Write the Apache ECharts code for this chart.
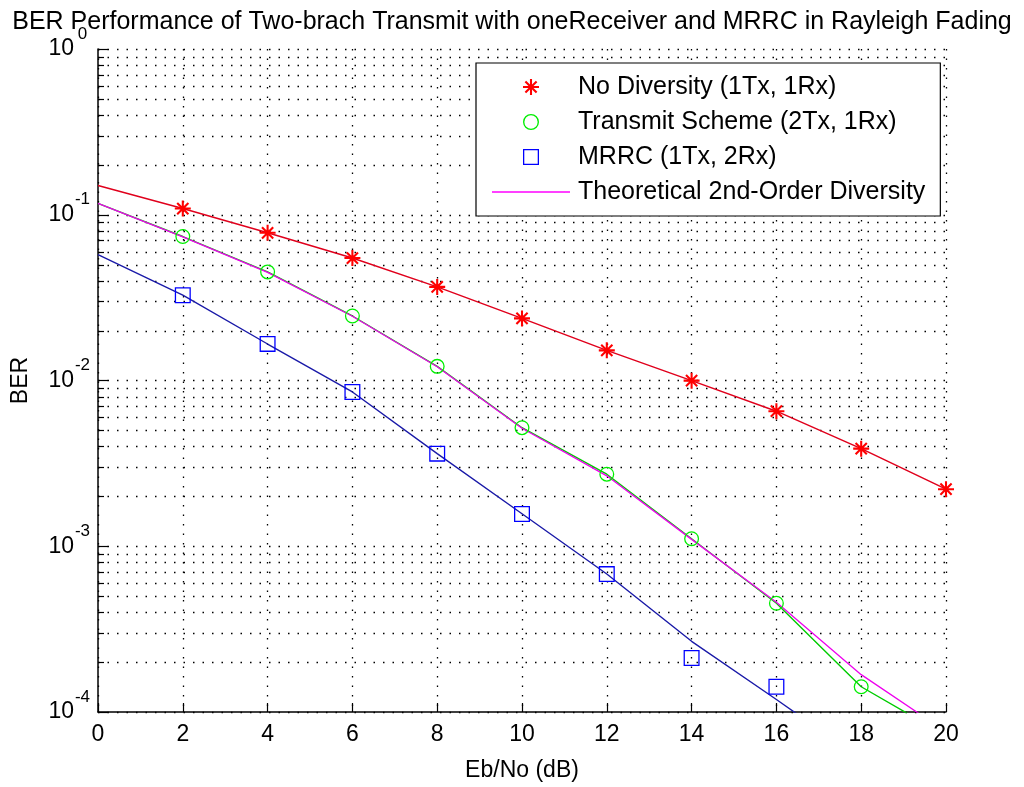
<!DOCTYPE html>
<html>
<head>
<meta charset="utf-8">
<script src="https://cdn.jsdelivr.net/npm/echarts@6/dist/echarts.min.js"></script>
<style>
html,body{margin:0;padding:0;background:#fff;}
#chart{width:1024px;height:787px;}
</style>
</head>
<body>
<div id="chart"></div>
<script>
// ---- data ----
const xTicks = [0, 2, 4, 6, 8, 10, 12, 14, 16, 18, 20];

// simulation markers
const noDivX = [2, 4, 6, 8, 10, 12, 14, 16, 18, 20];
const noDivBER = [0.109, 0.0778, 0.0548, 0.0367, 0.0237, 0.0152, 0.00998, 0.00653, 0.00388, 0.00221];

const txX = [2, 4, 6, 8, 10, 12, 14, 16, 18];
const txBER = [0.0739, 0.0452, 0.0245, 0.01217, 0.00519, 0.00272, 0.00111, 0.000453, 0.000142];

const mrrcX = [2, 4, 6, 8, 10, 12, 14, 16];
const mrrcBER = [0.0327, 0.01663, 0.00853, 0.00362, 0.001567, 0.000679, 0.000212, 0.000142];

// curves
const redLineX = [0, 2, 4, 6, 8, 10, 12, 14, 16, 18, 20];
const redLine = [0.150, 0.109, 0.0778, 0.0548, 0.0367, 0.0237, 0.0152, 0.00998, 0.00653, 0.00388, 0.00221];

const greenLineX = [0, 2, 4, 6, 8, 10, 12, 14, 16, 18, 20];
const greenLine = [0.117, 0.0739, 0.0452, 0.0245, 0.01217, 0.00519, 0.00272, 0.00111, 0.000453, 0.000142, 0.000072];

const blueLineX = [0, 2, 4, 6, 8, 10, 12, 14, 16, 18];
const blueLine = [0.0574, 0.0327, 0.0166, 0.00853, 0.00362, 0.00157, 0.00068, 0.000267, 0.000119, 0.000052];

const theoX = [0, 2, 4, 6, 8, 10, 12, 14, 16, 18, 20];
const theoLine = [0.117, 0.0735, 0.0449, 0.0244, 0.0121, 0.00515, 0.00266, 0.00110, 0.000460, 0.000168, 0.000076];

// log-axis minor tick values
const decades = [1e-4, 1e-3, 1e-2, 1e-1];
const minorMult = [2, 3, 4, 5, 6, 7, 8, 9];
const yMinorTicks = [];
decades.forEach(d => minorMult.forEach(m => yMinorTicks.push(m * d)));

const legendNames = ['No Diversity (1Tx, 1Rx)', 'Transmit Scheme (2Tx, 1Rx)', 'MRRC (1Tx, 2Rx)', 'Theoretical 2nd-Order Diversity'];

// ---- symbols ----
const starPath = 'path://M0,8.7H20V11.3H0Z M8.7,0H11.3V20H8.7Z M3.92,2.08L17.92,16.08L16.08,17.92L2.08,3.92Z M16.08,2.08L17.92,3.92L3.92,17.92L2.08,16.08Z';
const circlePath = 'path://M10,0A10,10 0 1,1 10,20A10,10 0 1,1 10,0Z M10,1.7A8.3,8.3 0 1,0 10,18.3A8.3,8.3 0 1,0 10,1.7Z';
const squarePath = 'path://M0,0H20V20H0Z M1.6,1.6V18.4H18.4V1.6Z';
const linePath = 'path://M0,0H78V1.4H0Z';

const FONT = '"Liberation Sans", Arial, Helvetica, sans-serif';
const zip = (xs, ys) => xs.map((x, i) => [x, ys[i]]);

const dotted = [1.5, 8];

const chart = echarts.init(document.getElementById('chart'), null, {renderer: 'canvas'});
chart.setOption({
  backgroundColor: '#fff',
  animation: false,
  textStyle: {fontFamily: FONT, color: '#000'},
  title: {
    text: 'BER Performance of Two-brach Transmit with oneReceiver and MRRC in Rayleigh Fading',
    left: 'center', top: 5,
    textStyle: {fontFamily: FONT, fontSize: 25, fontWeight: 'normal', color: '#000'}
  },
  grid: {left: 98, right: 78, top: 49, bottom: 71, containLabel: false},
  legend: {
    orient: 'vertical', left: 476, top: 63,
    padding: [9, 15, 9, 16],
    itemWidth: 78, itemHeight: 16, itemGap: 5,
    symbolKeepAspect: true,
    backgroundColor: '#fff', borderColor: '#000', borderWidth: 1.2, borderRadius: 0,
    textStyle: {fontFamily: FONT, fontSize: 25, lineHeight: 30, color: '#000', padding: [0, 0, 0, 3]},
    data: [
      {name: legendNames[0], icon: starPath, itemStyle: {color: '#ff0000'}},
      {name: legendNames[1], icon: circlePath, itemStyle: {color: '#00ee00'}},
      {name: legendNames[2], icon: squarePath, itemStyle: {color: '#0000ff'}},
      {name: legendNames[3], icon: linePath, itemStyle: {color: '#ff00ff'}}
    ],
    selectedMode: false
  },
  xAxis: {
    type: 'value', min: 0, max: 20, interval: 2,
    name: 'Eb/No (dB)', nameLocation: 'middle', nameGap: 47,
    nameTextStyle: {fontFamily: FONT, fontSize: 23, color: '#000'},
    axisLine: {show: true, onZero: false, lineStyle: {color: '#000', width: 1.5}},
    axisTick: {show: true, inside: true, length: 9, lineStyle: {color: '#000', width: 1.2}},
    axisLabel: {fontFamily: FONT, fontSize: 23, color: '#000', margin: 11},
    splitLine: {show: true, lineStyle: {color: '#000', width: 1.3, type: dotted}}
  },
  yAxis: {
    type: 'log', logBase: 10, min: 1e-4, max: 1,
    name: 'BER', nameLocation: 'middle', nameGap: 66,
    nameTextStyle: {fontFamily: FONT, fontSize: 23, color: '#000'},
    axisLine: {show: true, lineStyle: {color: '#000', width: 1.5}},
    axisTick: {show: true, inside: true, length: 10, lineStyle: {color: '#000', width: 1.2}},
    axisLabel: {
      margin: 7,
      formatter: v => '{b|10}{e|' + Math.round(Math.log10(v)) + '}',
      rich: {
        b: {fontFamily: FONT, fontSize: 23, color: '#000'},
        e: {fontFamily: FONT, fontSize: 17, color: '#000', width: 17, align: 'left', padding: [0, 0, 30, 0]}
      }
    },
    splitLine: {show: true, lineStyle: {color: '#000', width: 1.3, type: dotted}}
  },
  series: [
    {
      type: 'custom', name: 'minorGrid', silent: true, z: 1,
      data: yMinorTicks.map(v => [0, v]),
      renderItem: (params, api) => {
        const cs = params.coordSys;
        const y = Math.round(api.coord([0, api.value(1)])[1]) + 0.5;
        return {
          type: 'group',
          children: [
            {type: 'line', shape: {x1: cs.x, y1: y, x2: cs.x + cs.width, y2: y},
             style: {stroke: '#000', lineWidth: 1.3, lineDash: dotted}},
            {type: 'line', shape: {x1: cs.x, y1: y, x2: cs.x + 6, y2: y},
             style: {stroke: '#000', lineWidth: 1.2}}
          ]
        };
      }
    },
    {type: 'line', name: 'redCurve', data: zip(redLineX, redLine), symbol: 'none', z: 3,
     lineStyle: {color: '#e0001c', width: 1.5}, clip: true},
    {type: 'line', name: 'greenCurve', data: zip(greenLineX, greenLine), symbol: 'none', z: 3,
     lineStyle: {color: '#00cc00', width: 1.4}, clip: true},
    {type: 'line', name: legendNames[3], data: zip(theoX, theoLine), symbol: 'none', z: 3,
     itemStyle: {color: '#ff00ff'}, lineStyle: {color: '#ee00ee', width: 1.3}, clip: true},
    {type: 'line', name: 'blueCurve', data: zip(blueLineX, blueLine), symbol: 'none', z: 3,
     lineStyle: {color: '#1a1aa8', width: 1.4}, clip: true},
    {type: 'scatter', name: legendNames[0], data: zip(noDivX, noDivBER), symbol: starPath, symbolSize: 16, z: 5,
     itemStyle: {color: '#ff0000', opacity: 1}},
    {type: 'scatter', name: legendNames[1], data: zip(txX, txBER), symbol: circlePath, symbolSize: 15, z: 5,
     itemStyle: {color: '#00ee00', opacity: 1}},
    {type: 'scatter', name: legendNames[2], data: zip(mrrcX, mrrcBER), symbol: squarePath, symbolSize: 16, z: 5,
     itemStyle: {color: '#0000ff', opacity: 1}}
  ]
});
</script>
</body>
</html>
